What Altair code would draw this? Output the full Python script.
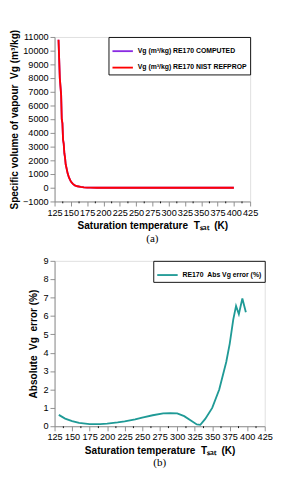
import altair as alt
import pandas as pd

# Panel (a): specific volume of vapour
t_a = [131, 133, 135, 136, 137, 138, 139, 140, 141, 142, 143, 145, 147, 150, 153, 156,
       160, 165, 170, 175, 180, 190, 200, 225, 250, 275, 300, 325, 350, 375, 400]
vg_a = [10800, 8000, 6800, 5000, 4700, 3500, 3200, 2500, 2200, 1700, 1500, 1050, 750, 450,
        280, 180, 110, 60, 30, 15, 8, 3, 1.5, 0.4, 0.15, 0.06, 0.03, 0.015, 0.008, 0.004, 0.002]
series_a = ["Vg (m³/kg) RE170 COMPUTED", "Vg (m³/kg) RE170 NIST REFPROP"]
colors_a = ["#8a2be2", "#ff0000"]

# Panel (b): absolute error
t_b = [131, 140, 150, 160, 175, 190, 200, 215, 225, 240, 250, 265, 280, 290, 300, 310, 320,
       328, 333, 340, 350, 360, 370, 375, 380, 384, 388, 393, 398]
err_b = [0.62, 0.42, 0.28, 0.18, 0.12, 0.12, 0.14, 0.21, 0.27, 0.38, 0.47, 0.6, 0.7, 0.72,
         0.7, 0.55, 0.3, 0.1, 0.08, 0.4, 1.0, 2.0, 3.5, 4.5, 5.8, 6.55, 6.1, 6.95, 6.2]
series_b = ["RE170\u00a0\u00a0Abs Vg error (%)"]

x_ticks = list(range(125, 426, 25))
x_minor = [137.5, 162.5, 187.5, 212.5, 237.5, 262.5, 287.5, 312.5, 337.5, 362.5, 387.5, 412.5]

rows = []
for s in series_a:
    for t, v in zip(t_a, vg_a):
        rows.append({"T": t, "V": v, "series": s})
df_a = pd.DataFrame(rows)
df_b = pd.DataFrame({"T": t_b, "E": err_b, "series": series_b[0]})
df_minor = pd.DataFrame({"T": x_minor})

FONT = "Liberation Sans"
X_TITLE = "Saturation temperature\u00a0\u00a0Tₛₐₜ\u00a0\u00a0(K)"
XS = alt.Scale(domain=[125, 425], nice=False)

def legend_cfg():
    return alt.Legend(title=None, orient="top-right", offset=0, strokeColor="black",
                      padding=3, labelFont=FONT, labelFontSize=7.5, labelFontWeight="bold",
                      labelColor="black",
                      symbolType="stroke", symbolStrokeWidth=2, symbolSize=500,
                      rowPadding=1, fillColor="white", labelLimit=300)

def x_axis():
    return alt.Axis(values=x_ticks, title=X_TITLE, grid=False, labelOverlap=False,
                    labelFlush=False, format="d")

def minor_ticks(h):
    return alt.Chart(df_minor).mark_rule(color="black", strokeWidth=1).encode(
        x=alt.X("T:Q", scale=XS, axis=x_axis()), y=alt.value(h), y2=alt.value(h + 2))

H_A, W_A = 180, 214
H_B, W_B = 181, 230

line_a = alt.Chart(df_a).mark_line(strokeWidth=2, clip=True).encode(
    x=alt.X("T:Q", scale=XS, axis=x_axis()),
    y=alt.Y("V:Q", scale=alt.Scale(domain=[-1000, 11000], nice=False),
            axis=alt.Axis(values=list(range(-1000, 11001, 1000)), format="d",
                          labelOverlap=False, labelFlush=False,
                          title="Specific volume of vapour\u00a0\u00a0Vg (m³/kg)", grid=False)),
    color=alt.Color("series:N", scale=alt.Scale(domain=series_a, range=colors_a),
                    legend=legend_cfg()),
    order=alt.Order("series:N"),
)
top = alt.layer(line_a, minor_ticks(H_A)).properties(
    width=W_A, height=H_A,
    title=alt.TitleParams("(a)", orient="bottom", font="Liberation Serif",
                          fontSize=12, fontWeight="normal", offset=3))

line_b = alt.Chart(df_b).mark_line(strokeWidth=2, color="#1f9a96").encode(
    x=alt.X("T:Q", scale=XS, axis=x_axis()),
    y=alt.Y("E:Q", scale=alt.Scale(domain=[0, 9], nice=False),
            axis=alt.Axis(values=list(range(0, 10)), labelOverlap=False, labelFlush=False,
                          titlePadding=5,
                          title="Absolute\u00a0\u00a0Vg\u00a0\u00a0error (%)", grid=False)),
    color=alt.Color("series:N", scale=alt.Scale(domain=series_b, range=["#1f9a96"]),
                    legend=legend_cfg()),
)
bottom = alt.layer(line_b, minor_ticks(H_B)).properties(
    width=W_B, height=H_B,
    title=alt.TitleParams("(b)", orient="bottom", font="Liberation Serif",
                          fontSize=12, fontWeight="normal", offset=3))

chart = alt.concat(top, bottom, columns=1, spacing=12).properties(
    align="none"
).resolve_scale(color="independent").configure_view(
    stroke="black", strokeWidth=1
).configure_axis(
    labelFont=FONT, labelFontSize=7.5, labelFontWeight="bold", labelColor="black",
    titleFont=FONT, titleFontSize=8, titleFontWeight="bold", titleColor="black",
    domainColor="black", tickColor="black", tickSize=3, labelPadding=1, titlePadding=3
).configure(padding={"left": 0, "top": 0, "right": 0, "bottom": 0})

chart.save("out.html", embed_options={"renderer": "svg", "actions": False})
